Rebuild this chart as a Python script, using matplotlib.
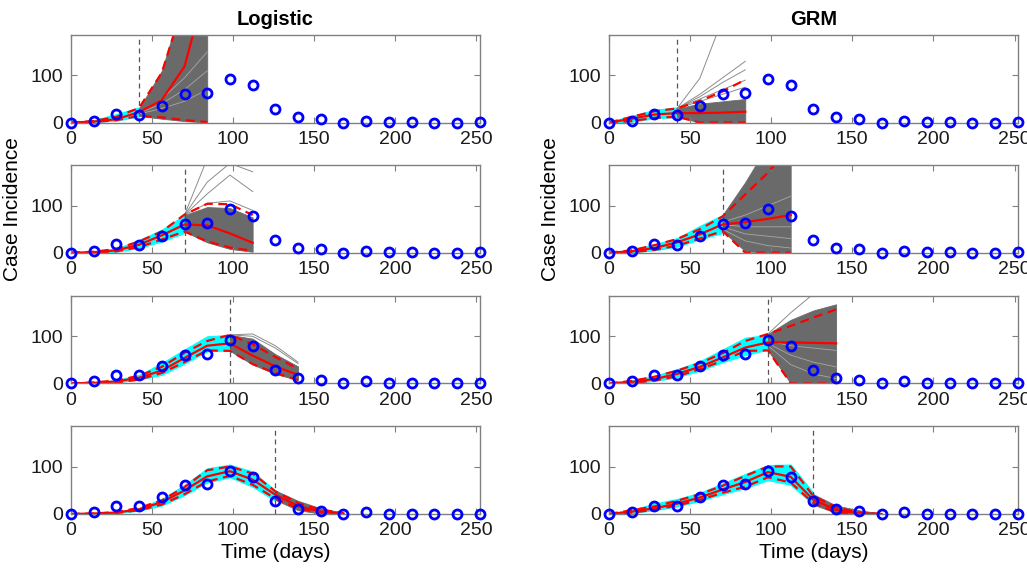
import numpy as np
import matplotlib.pyplot as plt

plt.rcParams['font.family'] = ['Liberation Sans', 'DejaVu Sans']

# observed weekly-binned case incidence (every 14 days)
t_obs = np.arange(0, 253, 14)
cases = [0, 4, 18, 17, 36, 61, 63, 92, 79, 28, 11, 7, 0, 4, 1, 1, 0, 0, 1]

models = ['Logistic', 'GRM']
fit_end = [42, 70, 98, 126]
horizon = 42

# median fit + forecast (values every 14 days from t=0 to fit_end+42)
mid = {
    'Logistic': [[0, 2, 7, 22, 48, 119, 300],
                 [0, 1, 5, 17, 37, 60, 58, 41, 21],
                 [0, 1, 4, 12, 27, 54, 80, 85, 59, 36, 18],
                 [0, 1, 3, 10, 25, 50, 80, 91, 73, 41, 17, 5, 1]],
    'GRM': [[0, 8, 17, 20, 20, 21, 23],
            [0, 3, 10, 22, 39, 60, 65, 72, 80],
            [0, 3, 9, 20, 35, 55, 76, 87, 87, 86, 85],
            [0, 5, 12, 22, 35, 52, 68, 89, 79, 30, 9, 1, 0]],
}
# 95% prediction bounds (red dashed)
upper = {
    'Logistic': [[0, 3, 12, 31, 106, 260, 500],
                 [0, 2, 8, 24, 45, 81, 104, 103, 80],
                 [0, 2, 6, 16, 35, 65, 90, 103, 83, 56, 31],
                 [0, 1, 4, 13, 29, 57, 93, 101, 86, 48, 23, 9, 2]],
    'GRM': [[0, 12, 24, 30, 46, 66, 91],
            [0, 5, 16, 29, 50, 77, 124, 170, 230],
            [0, 5, 14, 27, 43, 64, 90, 105, 122, 140, 157],
            [0, 8, 16, 28, 42, 60, 81, 101, 101, 38, 14, 3, 0]],
}
lower = {
    'Logistic': [[0, 1, 5, 14, 11, 5, 1],
                 [0, 0, 3, 12, 28, 45, 24, 11, 4],
                 [0, 0, 2, 8, 22, 45, 70, 69, 41, 22, 7],
                 [0, 0, 2, 8, 20, 42, 69, 81, 62, 33, 12, 3, 0]],
    'GRM': [[0, 3, 10, 12, 0, 0, 0],
            [0, 1, 6, 15, 30, 46, 0, 0, 0],
            [0, 1, 6, 15, 30, 48, 69, 70, 0, 0, 0],
            [0, 3, 9, 18, 30, 45, 58, 78, 67, 23, 4, 0, 0]],
}
# spread of bootstrap fits over the calibration window (cyan)
cyan_lo = {
    'Logistic': [[0, 1, 4, 13],
                 [0, 0, 2, 10, 24, 42],
                 [0, 0, 2, 8, 18, 42, 68, 70],
                 [0, 0, 2, 7, 18, 40, 67, 78, 58, 28]],
    'GRM': [[0, 2, 9, 12],
            [0, 1, 5, 13, 28, 42],
            [0, 1, 5, 13, 27, 45, 60, 72],
            [0, 2, 8, 16, 28, 42, 55, 72, 62, 20]],
}
cyan_hi = {
    'Logistic': [[1, 5, 18, 32],
                 [0, 2, 9, 27, 49, 80],
                 [0, 2, 7, 18, 43, 72, 100, 103],
                 [0, 1, 5, 13, 32, 62, 97, 105, 90, 50]],
    'GRM': [[2, 14, 27, 32],
            [1, 6, 18, 31, 57, 80],
            [1, 6, 16, 30, 47, 72, 97, 103],
            [1, 9, 22, 32, 45, 65, 85, 104, 105, 45]],
}
# spread of bootstrap forecasts (grey), from fit_end to fit_end+42
gray_lo = {
    'Logistic': [[14, 8, 3, 0], [45, 22, 8, 2], [69, 40, 20, 7], [30, 8, 1, 0]],
    'GRM': [[12, 0, 0, 0], [46, 3, 0, 0], [70, 0, 0, 0], [20, 2, 0, 0]],
}
gray_hi = {
    'Logistic': [[30, 110, 270, 450], [80, 97, 95, 75], [103, 95, 62, 36], [50, 28, 12, 3]],
    'GRM': [[30, 40, 45, 50], [80, 150, 230, 300], [105, 135, 155, 168], [42, 18, 8, 1]],
}
# a few outlying forecast curves drawn as single lines
gray_extra = {
    'Logistic': [[],
                 [[80, 200, 330, 450], [80, 150, 190, 172], [80, 125, 165, 130], [80, 105, 110, 90]],
                 [[103, 105, 80, 45], [103, 100, 75, 42]],
                 []],
    'GRM': [[[30, 45, 60, 75], [30, 50, 70, 90], [30, 55, 85, 112], [30, 60, 95, 130], [30, 94, 220, 400]],
            [],
            [[105, 150, 190, 240]],
            []],
}
# lighter gaps between forecast curves inside the dense grey area
gray_gaps = {
    'Logistic': [[[20, 40, 70, 110], [22, 50, 95, 150], [18, 30, 45, 70]],
                 [],
                 [],
                 []],
    'GRM': [[],
            [[50, 25, 15, 10], [55, 40, 35, 30], [60, 55, 55, 55], [65, 80, 100, 120]],
            [[80, 40, 20, 10], [85, 60, 45, 35], [90, 80, 75, 70]],
            []],
}

fig = plt.figure(figsize=(10.27, 5.73), dpi=100)
lefts = [0.0691, 0.593]
bottoms = [0.7862, 0.559, 0.331, 0.103]
w, h = 0.398, 0.1527
axcol = '#808080'

for c, m in enumerate(models):
    for r in range(4):
        ax = fig.add_axes([lefts[c], bottoms[r], w, h])
        fe = fit_end[r]
        tt = np.arange(0, fe + horizon + 1, 14)
        tf = np.arange(0, fe + 1, 14)
        tg = np.arange(fe, fe + horizon + 1, 14)

        ax.fill_between(tf, cyan_lo[m][r], cyan_hi[m][r], color='cyan', lw=0.8, edgecolor='cyan')
        ax.fill_between(tg, gray_lo[m][r], gray_hi[m][r], color='#6a6a6a', lw=0.6, edgecolor='#6a6a6a')
        for ln in gray_gaps[m][r]:
            ax.plot(tg, ln, color='#a8a8a8', lw=0.6)
        for ln in gray_extra[m][r]:
            ax.plot(tg, ln, color='#8c8c8c', lw=0.7)
        ax.plot(tt, mid[m][r], color='red', lw=1.6)
        ax.plot(tt, upper[m][r], color='red', lw=1.6, dashes=(4, 2.5))
        ax.plot(tt, lower[m][r], color='red', lw=1.6, dashes=(4, 2.5))
        ax.axvline(fe, color='#555555', lw=0.9, dashes=(4, 3))
        ax.plot(t_obs, cases, 'o', mfc='none', mec='blue', mew=2, ms=6.5, clip_on=False, zorder=5)

        ax.set_xlim(0, 252)
        ax.set_ylim(0, 186)
        ax.set_xticks([0, 50, 100, 150, 200, 250])
        ax.set_yticks([0, 100])
        ax.tick_params(direction='in', length=4, width=0.8, color=axcol, labelsize=14,
                       top=True, right=True, pad=6, labelcolor='#1a1a1a')
        for s in ax.spines.values():
            s.set_color(axcol)
            s.set_linewidth(1)
        if r == 0:
            ax.set_title(m, fontsize=14.5, fontweight='bold', pad=7)
        if r == 1:
            ax.set_ylabel('Case Incidence', fontsize=15)
            ax.yaxis.set_label_coords(-0.12, 0.5)
        if r == 3:
            ax.set_xlabel('Time (days)', fontsize=15, labelpad=3)

fig.savefig('out.png', dpi=100)
